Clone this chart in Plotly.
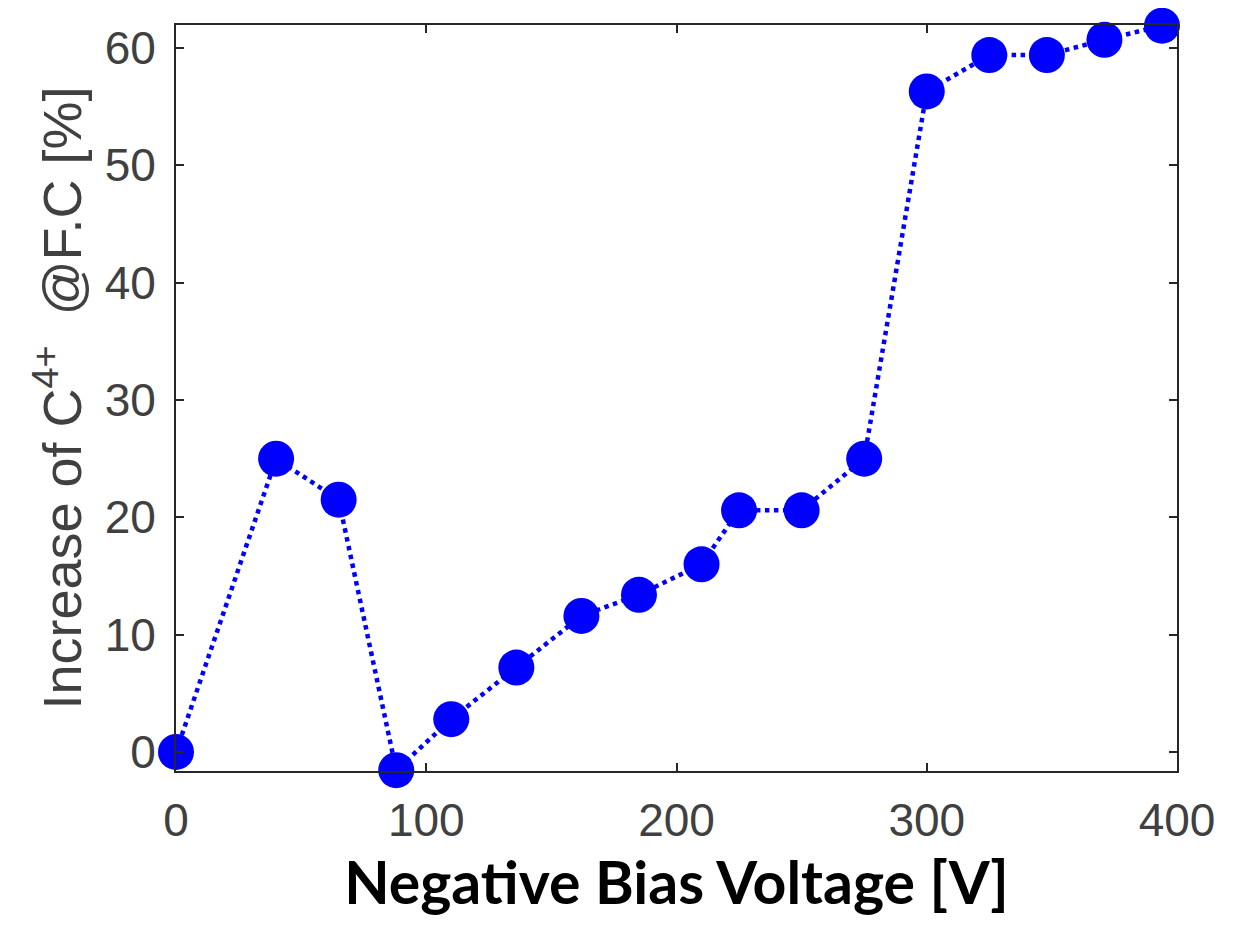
import plotly.graph_objects as go

# Data
bias_voltage = [0, 40, 65, 88, 110, 136, 162, 185, 210, 225, 250, 275, 300, 325, 348, 371, 394]
increase_c4 = [0.0, 25.0, 21.5, -1.55, 2.8, 7.2, 11.6, 13.4, 16.0, 20.6, 20.6, 25.0, 56.3, 59.4, 59.4, 60.7, 61.9]

x_ticks = [0, 100, 200, 300, 400]
y_ticks = [0, 10, 20, 30, 40, 50, 60]

fig = go.Figure()
fig.add_trace(go.Scatter(
    x=bias_voltage, y=increase_c4,
    mode="lines+markers",
    line=dict(color="#0000FF", width=4.5, dash="dot"),
    marker=dict(color="#0000FF", size=36),
    cliponaxis=False,
    showlegend=False,
))

axis_font = dict(family="Liberation Sans, Arial, sans-serif", size=46, color="#404040")

# the page body has an 8px default margin, so the figure is sized/offset to compensate
fig.update_layout(
    width=1237, height=917,
    margin=dict(l=168, r=68, t=17, b=154),
    paper_bgcolor="white", plot_bgcolor="white",
    xaxis=dict(
        range=[0, 400], tickvals=x_ticks, automargin=False,
        showgrid=False, zeroline=False,
        showline=True, mirror="ticks", linecolor="#262626", linewidth=2,
        ticks="inside", ticklen=8, tickwidth=1.5, tickcolor="#262626",
        tickfont=axis_font, ticklabelstandoff=8,
        title=dict(text="<b>Negative Bias Voltage [V]</b>",
                   font=dict(family="Lato, Open Sans, sans-serif", size=59, color="black"),
                   standoff=8),
    ),
    yaxis=dict(
        range=[-1.62, 61.96], tickvals=y_ticks, automargin=False,
        showgrid=False, zeroline=False,
        showline=True, mirror="ticks", linecolor="#262626", linewidth=2,
        ticks="inside", ticklen=8, tickwidth=1.5, tickcolor="#262626",
        tickfont=axis_font, ticklabelstandoff=9,
        title=dict(text="Increase of C<sup>4+</sup>&nbsp;&nbsp;@F.C [%]",
                   font=dict(family="Liberation Sans, Arial, sans-serif", size=54, color="#404040"),
                   standoff=6),
    ),
)

fig.write_html("out.html")
